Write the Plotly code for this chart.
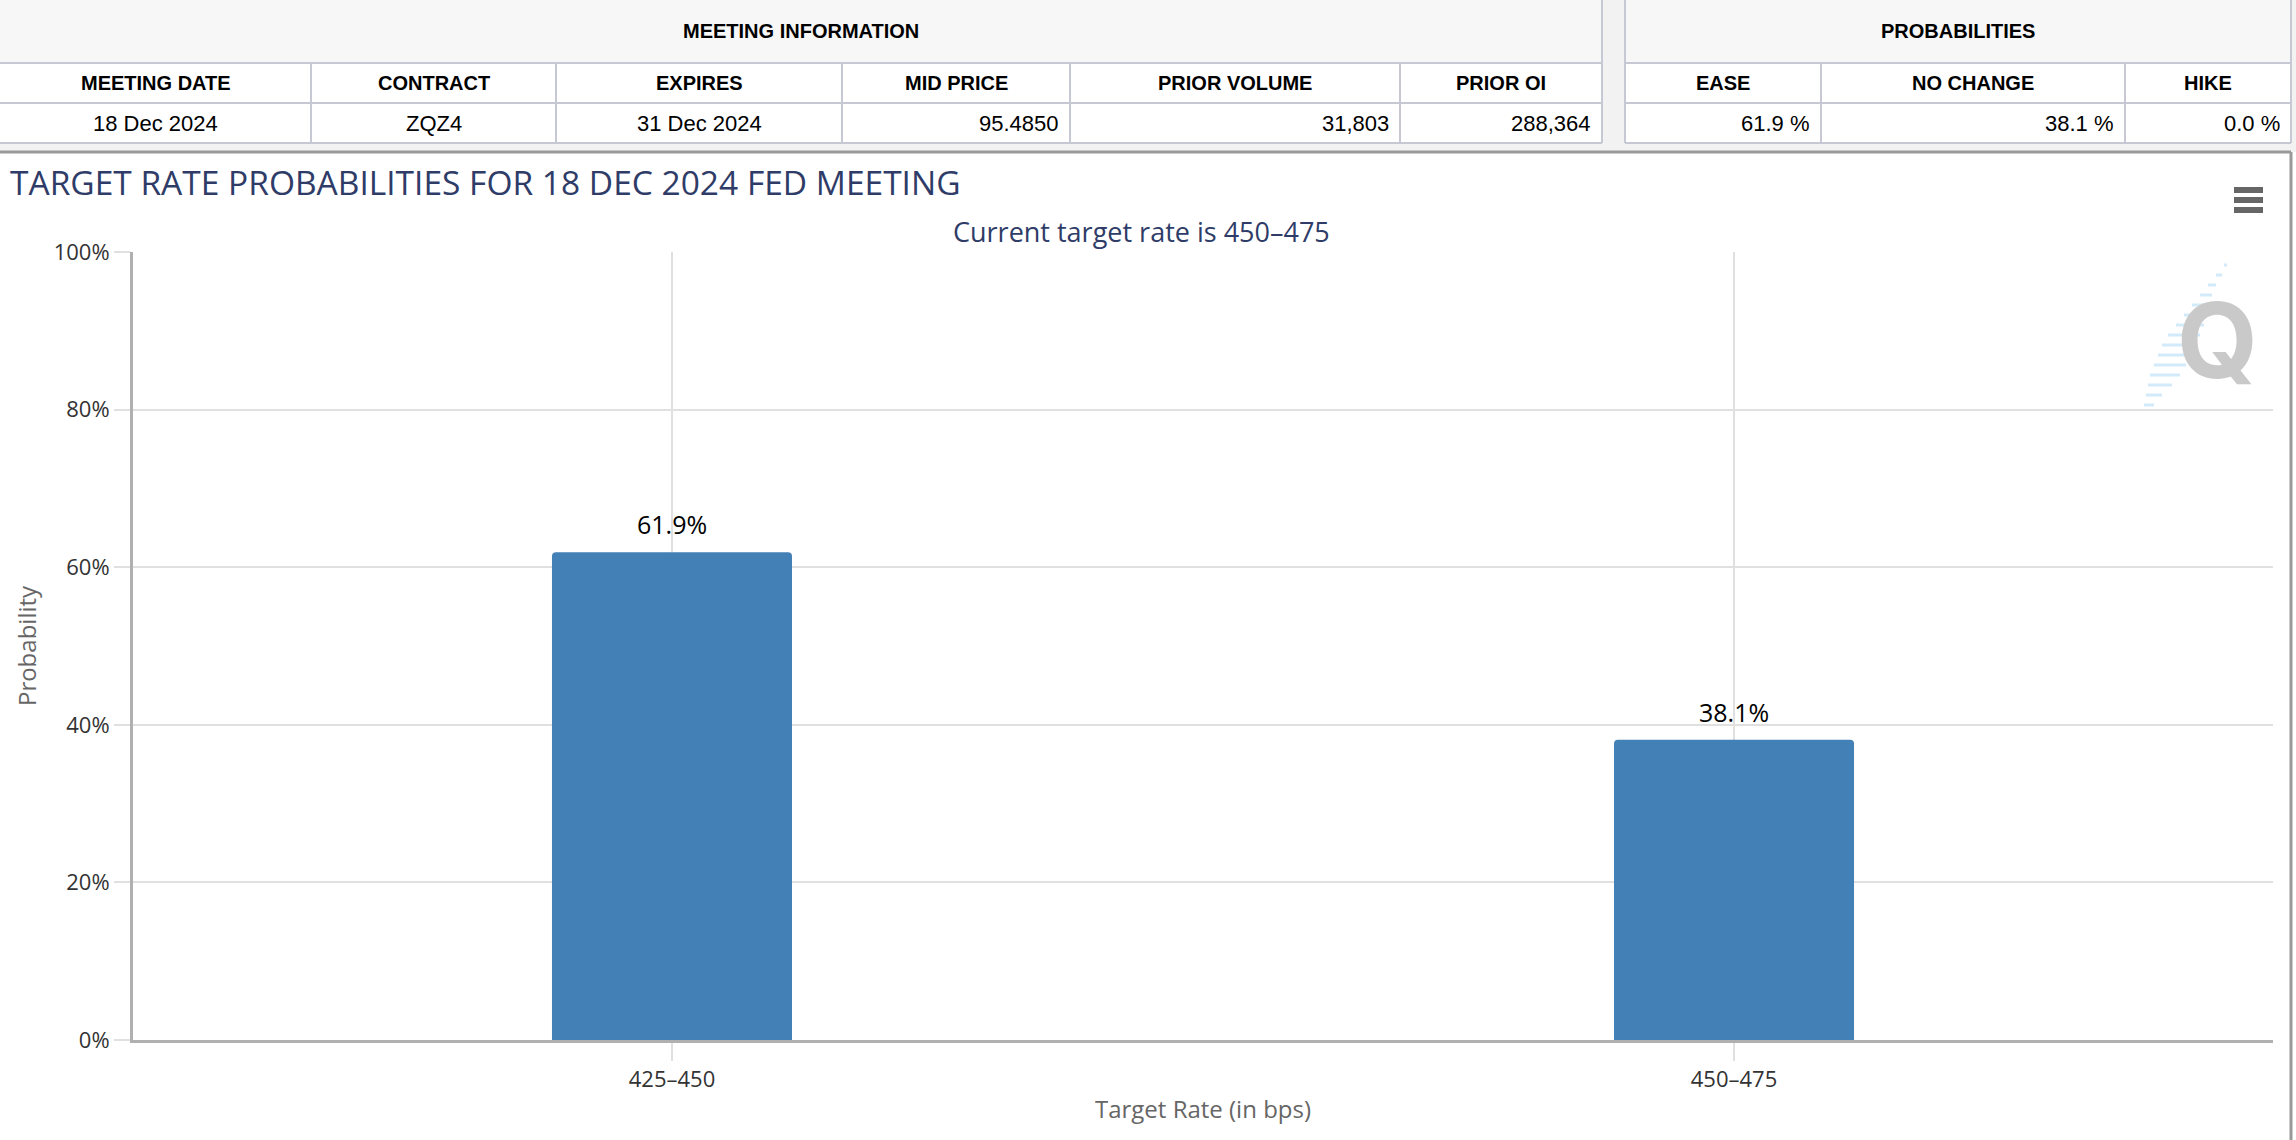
import plotly.graph_objects as go

# Data
target_rates = ["425–450", "450–475"]
probabilities = [61.9, 38.1]

meeting_headers = ["MEETING DATE", "CONTRACT", "EXPIRES", "MID PRICE", "PRIOR VOLUME", "PRIOR OI"]
meeting_values = ["18 Dec 2024", "ZQZ4", "31 Dec 2024", "95.4850", "31,803", "288,364"]
prob_headers = ["EASE", "NO CHANGE", "HIKE"]
prob_values = ["61.9 %", "38.1 %", "0.0 %"]

chart_title = "TARGET RATE PROBABILITIES FOR 18 DEC 2024 FED MEETING"
subtitle = "Current target rate is 450–475"

# Page geometry (pixels)
FIG_W, FIG_H = 2296, 1140
M_L, M_R, M_T, M_B = 133, 23, 252, 100
PW, PH = FIG_W - M_L - M_R, FIG_H - M_T - M_B


def px(x):
    return (x - M_L) / PW


def py(y):
    return (FIG_H - M_B - y) / PH


BAR_COLOR = "#4380b6"
NAVY = "#2f3c68"
GRID = "#e0e0e0"
AXIS = "#b0b0b0"
TBL_LINE = "#c6c9d3"

fig = go.Figure()
fig.add_trace(go.Bar(
    x=target_rates,
    y=[p / 100 for p in probabilities],
    marker=dict(color=BAR_COLOR, cornerradius=4, line=dict(width=0)),
    hovertemplate="%{x}: %{y:.1%}<extra></extra>",
))

shapes = []
annotations = []


def note(x, y, text, font, xanchor="center"):
    annotations.append(dict(x=x, y=y, xref="paper", yref="paper", text=text,
                            showarrow=False, xanchor=xanchor, yanchor="middle", font=font))


# bar value labels
for cat, val in zip(target_rates, probabilities):
    annotations.append(dict(
        x=cat, y=val / 100, xref="x", yref="y", text=f"{val:.1f}%",
        showarrow=False, xanchor="center", yanchor="bottom", yshift=9,
        font=dict(family="Open Sans", size=25, color="#000000"),
    ))

# top page strip (grey background behind tables)
shapes.append(dict(type="rect", xref="paper", yref="paper", layer="below",
                   x0=px(0), x1=px(FIG_W), y0=py(0), y1=py(152),
                   fillcolor="#f2f2f2", line=dict(width=0)))

# table geometry
rows = [0, 63, 103, 143]
meet_cols = [0, 311, 556, 842, 1070, 1400, 1602]
prob_cols = [1625, 1821, 2125, 2291]
right_aligned_meet = [False, False, False, True, True, True]

for cols in (meet_cols, prob_cols):
    x0, x1 = cols[0], cols[-1]
    shapes.append(dict(type="rect", xref="paper", yref="paper",
                       x0=px(x0), x1=px(x1), y0=py(rows[0]), y1=py(rows[1]),
                       fillcolor="#f7f7f7", line=dict(width=0)))
    shapes.append(dict(type="rect", xref="paper", yref="paper",
                       x0=px(x0), x1=px(x1), y0=py(rows[1]), y1=py(rows[3]),
                       fillcolor="#ffffff", line=dict(width=0)))
    for r in rows[1:]:
        shapes.append(dict(type="line", xref="paper", yref="paper",
                           x0=px(x0), x1=px(x1), y0=py(r), y1=py(r),
                           line=dict(color=TBL_LINE, width=2)))
    for c in (x0, x1):
        if c == 0:
            continue
        shapes.append(dict(type="line", xref="paper", yref="paper",
                           x0=px(c), x1=px(c), y0=py(rows[0]), y1=py(rows[3]),
                           line=dict(color=TBL_LINE, width=2)))
    for c in cols[1:-1]:
        shapes.append(dict(type="line", xref="paper", yref="paper",
                           x0=px(c), x1=px(c), y0=py(rows[1]), y1=py(rows[3]),
                           line=dict(color=TBL_LINE, width=2)))

hdr_font = dict(family="Liberation Sans, Arial", size=20, color="#000000")
val_font = dict(family="Liberation Sans, Arial", size=22, color="#000000")

note(px((meet_cols[0] + meet_cols[-1]) / 2), py(31), "<b>MEETING INFORMATION</b>", hdr_font)
note(px((prob_cols[0] + prob_cols[-1]) / 2), py(31), "<b>PROBABILITIES</b>", hdr_font)


def add_cells(cols, headers, values, right_flags):
    for i, (h, v) in enumerate(zip(headers, values)):
        left, right = cols[i], cols[i + 1]
        note(px((left + right) / 2), py(83), f"<b>{h}</b>", hdr_font)
        if right_flags[i]:
            note(px(right - 9), py(124), v, val_font, xanchor="right")
        else:
            note(px((left + right) / 2), py(124), v, val_font)


add_cells(meet_cols, meeting_headers, meeting_values, right_aligned_meet)
add_cells(prob_cols, prob_headers, prob_values, [True, True, True])

# chart panel border
shapes.append(dict(type="line", xref="paper", yref="paper",
                   x0=px(0), x1=px(2291), y0=py(152), y1=py(152),
                   line=dict(color="#999999", width=3)))
shapes.append(dict(type="line", xref="paper", yref="paper",
                   x0=px(2291), x1=px(2291), y0=py(152), y1=py(FIG_H),
                   line=dict(color="#999999", width=3)))

# hamburger menu icon
for yy in (190, 200, 210):
    shapes.append(dict(type="line", xref="paper", yref="paper",
                       x0=px(2234), x1=px(2263), y0=py(yy), y1=py(yy),
                       line=dict(color="#666666", width=6)))

# faint Q watermark
for i, (x0, x1) in enumerate([(2224, 2227), (2216, 2222), (2208, 2216), (2200, 2212), (2192, 2208),
                              (2184, 2206), (2176, 2204), (2168, 2200), (2162, 2196),
                              (2158, 2190), (2154, 2186), (2150, 2180), (2148, 2172),
                              (2146, 2162), (2144, 2154)]):
    yy = 265 + i * 10
    shapes.append(dict(type="line", xref="paper", yref="paper",
                       x0=px(x0), x1=px(x1), y0=py(yy), y1=py(yy),
                       line=dict(color="#d3eafa", width=3)))
note(px(2217), py(340), "<b>Q</b>", dict(family="Inter", size=104, color="#c9c9c9"))

# subtitle
note(px(1141), py(231), subtitle, dict(family="Open Sans", size=27, color=NAVY))

fig.update_layout(
    width=FIG_W, height=FIG_H,
    margin=dict(l=M_L, r=M_R, t=M_T, b=M_B, pad=0),
    paper_bgcolor="#ffffff", plot_bgcolor="#ffffff",
    title=dict(text=chart_title, x=10 / FIG_W, xanchor="left", xref="container",
               y=1 - 183 / FIG_H, yanchor="middle", yref="container",
               font=dict(family="Open Sans", size=33.5, color=NAVY)),
    bargap=0.774,
    showlegend=False,
    shapes=shapes,
    annotations=annotations,
    font=dict(family="Open Sans", color="#333333"),
)
fig.update_xaxes(
    range=[-0.5075, 1.5075],
    showgrid=True, gridcolor=GRID, gridwidth=2,
    showline=True, linecolor=AXIS, linewidth=3,
    ticks="outside", ticklen=18, tickcolor=GRID, tickwidth=2,
    tickfont=dict(family="Open Sans", size=22, color="#333333"),
    title=dict(text="Target Rate (in bps)", standoff=9,
               font=dict(family="Open Sans", size=24, color="#666666")),
)
fig.update_yaxes(
    range=[0, 1], dtick=0.2, tickformat=".0%",
    showgrid=True, gridcolor=GRID, gridwidth=2, zeroline=False,
    showline=True, linecolor=AXIS, linewidth=3,
    ticks="outside", ticklen=16, tickcolor=GRID, tickwidth=2,
    tickfont=dict(family="Open Sans", size=22, color="#333333"),
    title=dict(text="Probability", standoff=11,
               font=dict(family="Open Sans", size=24, color="#666666")),
)

fig.write_html("out.html", config={"displayModeBar": False},
               post_script="document.body.style.margin='0px';document.body.style.overflow='hidden';")
